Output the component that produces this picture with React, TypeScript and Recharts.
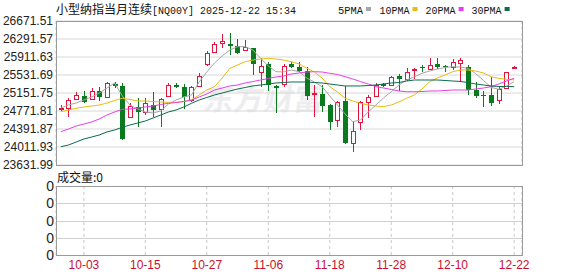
import { ComposedChart, Bar, Line, XAxis, YAxis, CartesianGrid } from 'recharts';

const RED = '#e0143c';
const GREEN = '#0a7a1e';
const MA_COLORS = ['#a6a6a6', '#e6bd10', '#e83ee8', '#0b6b4c'];
const MA_NAMES = ['5PMA', '10PMA', '20PMA', '30PMA'];

const dates = [
  '09-30', '10-01', '10-02', '10-03', '10-06', '10-07', '10-08', '10-09', '10-10', '10-13',
  '10-14', '10-15', '10-16', '10-17', '10-20', '10-21', '10-22', '10-23', '10-24', '10-27',
  '10-28', '10-29', '10-30', '10-31', '11-03', '11-04', '11-05', '11-06', '11-07', '11-10',
  '11-11', '11-12', '11-13', '11-14', '11-17', '11-18', '11-19', '11-20', '11-21', '11-24',
  '11-25', '11-26', '11-27', '11-28', '12-01', '12-02', '12-03', '12-04', '12-05', '12-08',
  '12-09', '12-10', '12-11', '12-12', '12-15', '12-16', '12-17', '12-18', '12-19', '12-22',
];

const opens = [
  24825, 24841, 25019, 25088, 25025, 25188, 25061, 25335, 25300, 24639,
  24863, 24757, 24898, 24808, 25095, 25327, 25285, 25004, 25300, 25764,
  26011, 26201, 26180, 26150, 26059, 26095, 25589, 25758, 25306, 25335,
  25758, 25694, 25616, 25124, 25124, 24898, 24582, 24983, 24103, 24533,
  24968, 25088, 25335, 25321, 25511, 25441, 25637, 25707, 25652, 25758,
  25722, 25694, 25779, 25707, 25215, 25110, 25110, 25004, 25251, 25673,
];
const highs = [
  24898, 25040, 25167, 25194, 25251, 25285, 25390, 25390, 25369, 24934,
  25040, 25040, 25179, 25040, 25356, 25356, 25342, 25300, 25567, 26038,
  26235, 26397, 26412, 26285, 26271, 26095, 25884, 25812, 25321, 25764,
  25812, 25812, 25707, 25321, 25321, 24913, 24983, 25306, 24546, 24983,
  25110, 25369, 25356, 25511, 25546, 25673, 25686, 25743, 25884, 25884,
  25743, 25863, 25884, 25743, 25390, 25194, 25496, 25300, 25602, 25728,
];
const lows = [
  24751, 24652, 25004, 24934, 25004, 24983, 25040, 25264, 24170, 24630,
  24428, 24687, 24652, 24428, 25074, 25251, 24814, 24955, 25285, 25728,
  25990, 26095, 25954, 25969, 26038, 25532, 25285, 25194, 24723, 25285,
  25673, 25602, 25004, 24639, 24744, 24371, 24441, 24080, 23913, 24371,
  24618, 25074, 25285, 25300, 25194, 25405, 25441, 25589, 25637, 25658,
  25602, 25637, 25390, 25110, 25040, 24863, 24884, 24913, 25236, 25655,
];
const closes = [
  24835, 25004, 25110, 24955, 25194, 25074, 25356, 25306, 24181, 24884,
  24757, 24934, 24793, 25019, 25321, 25285, 25074, 25272, 25517, 26002,
  26180, 26249, 26150, 25990, 26116, 25758, 25728, 25321, 25264, 25728,
  25694, 25623, 25095, 25145, 24877, 24533, 24955, 24090, 24356, 24955,
  25061, 25321, 25306, 25483, 25441, 25601, 25658, 25686, 25743, 25707,
  25694, 25800, 25848, 25215, 25095, 25082, 24934, 25236, 25589, 25694,
];

const ma5 = [
  24835, 24898, 24941, 25004, 25067, 25152, 25257, 25363, 25089, 24898,
  24814, 24751, 24730, 24772, 24920, 25004, 25067, 25110, 25384, 25595,
  25785, 25933, 26059, 26129, 26129, 26059, 25884, 25722, 25602, 25595,
  25637, 25602, 25468, 25384, 25285, 25089, 24898, 24709, 24546, 24582,
  24751, 24898, 25046, 25179, 25321, 25426, 25490, 25568, 25616, 25658,
  25690, 25707, 25700, 25673, 25560, 25420, 25270, 25230, 25300, 25390,
];
const ma10 = [
  24757, 24793, 24829, 24856, 24877, 24898, 24941, 24994, 25040, 25015,
  24983, 24983, 24972, 24962, 24955, 24951, 24972, 25004, 25110, 25215,
  25285, 25468, 25673, 25743, 25812, 25848, 25869, 25884, 25869, 25848,
  25812, 25764, 25679, 25595, 25468, 25285, 25173, 25040, 24983, 24934,
  24898, 24877, 24863, 24898, 24962, 25040, 25110, 25236, 25390, 25468,
  25532, 25601, 25637, 25637, 25616, 25574, 25496, 25460, 25440, 25430,
];
const ma20 = [
  24335, 24392, 24455, 24497, 24540, 24603, 24687, 24751, 24808, 24815,
  24835, 24856, 24877, 24909, 24934, 24951, 24972, 25004, 25067, 25131,
  25215, 25257, 25300, 25321, 25363, 25394, 25426, 25458, 25490, 25511,
  25553, 25574, 25595, 25601, 25595, 25568, 25542, 25496, 25447, 25394,
  25342, 25285, 25257, 25226, 25194, 25179, 25179, 25183, 25194, 25194,
  25204, 25215, 25215, 25215, 25236, 25257, 25285, 25342, 25405, 25462,
];
const ma30 = [
  24018, 24054, 24118, 24181, 24223, 24265, 24329, 24371, 24428, 24476,
  24519, 24561, 24624, 24687, 24751, 24793, 24856, 24934, 25004, 25057,
  25110, 25152, 25194, 25236, 25268, 25300, 25321, 25342, 25363, 25373,
  25384, 25384, 25384, 25373, 25363, 25342, 25321, 25300, 25300, 25300,
  25310, 25321, 25342, 25363, 25373, 25405, 25426, 25426, 25426, 25426,
  25416, 25405, 25395, 25373, 25342, 25321, 25300, 25289, 25289, 25285,
];

// 成交量 shows 0 for every day
const volumes = [
  0, 0, 0, 0, 0, 0, 0, 0, 0, 0, 0, 0, 0, 0, 0, 0, 0, 0, 0, 0,
  0, 0, 0, 0, 0, 0, 0, 0, 0, 0, 0, 0, 0, 0, 0, 0, 0, 0, 0, 0,
  0, 0, 0, 0, 0, 0, 0, 0, 0, 0, 0, 0, 0, 0, 0, 0, 0, 0, 0, 0,
];

const priceTicks = [
  26671.51, 26291.57, 25911.63, 25531.69, 25151.75, 24771.81, 24391.87, 24011.93, 23631.99,
];
const dateTicks = ['10-03', '10-15', '10-27', '11-06', '11-18', '11-28', '12-10', '12-22'];
const volTickLabels = ['0', '0', '0', '0', '0'];

const data = dates.map((date, i) => ({
  date,
  open: opens[i],
  high: highs[i],
  low: lows[i],
  close: closes[i],
  ma5: ma5[i],
  ma10: ma10[i],
  ma20: ma20[i],
  ma30: ma30[i],
}));
const volData = dates.map((date, i) => ({ date, vol: volumes[i] }));

const SANS = "'Liberation Sans', Arial, sans-serif";
const CJK = "'Noto Sans CJK SC', sans-serif";
const MONO = "'Liberation Mono', monospace";

// volume panel rows in page pixels
const VOL_Y0 = 186;
const VOL_Y1 = 255;

function Candle(props: any) {
  const { x, y, width, height, payload } = props;
  const { open, close, high, low } = payload;
  const top = height >= 0 ? y : y + height;
  const h = Math.abs(height);
  const span = high - low || 1;
  const toY = (v: number) => top + ((high - v) / span) * h;
  const n = Math.round(x + width / 2);
  const cx = n + 0.5;
  const bodyTop = Math.round(toY(Math.max(open, close)));
  const bodyBot = Math.round(toY(Math.min(open, close)));
  const yHigh = Math.round(toY(high));
  const yLow = Math.round(toY(low));
  const up = close >= open;
  if (up) {
    const bh = Math.max(bodyBot - bodyTop, 1);
    return (
      <g>
        <line x1={cx} x2={cx} y1={yHigh} y2={bodyTop} stroke={RED} />
        <line x1={cx} x2={cx} y1={bodyTop + bh} y2={yLow} stroke={RED} />
        <rect x={n - 1.5} y={bodyTop + 0.5} width={4} height={bh} fill="#fff" stroke={RED} />
      </g>
    );
  }
  return (
    <g>
      <line x1={cx} x2={cx} y1={yHigh} y2={yLow} stroke={GREEN} />
      <rect x={n - 2} y={bodyTop} width={5} height={Math.max(bodyBot - bodyTop, 1)} fill={GREEN} />
    </g>
  );
}

function PriceTick({ y, payload }: any) {
  return (
    <text x={53} y={y} dy={4} textAnchor="end" fontSize={12} fontFamily={SANS} fill="#222">
      {Number(payload.value).toFixed(2)}
    </text>
  );
}

function DateTick({ x, y, payload }: any) {
  return (
    <text x={x} y={y + 14} textAnchor="middle" fontSize={12} fontFamily={SANS} fill="#c8102e">
      {payload.value}
    </text>
  );
}

export default function App() {
  const legendX = [338, 379.5, 425.6, 471.6];
  const legendW = [25, 30, 30, 30];
  const rows = volTickLabels.map(
    (_, i) => VOL_Y0 + ((VOL_Y1 - VOL_Y0) * i) / (volTickLabels.length - 1),
  );
  return (
    <div
      style={{
        position: 'absolute',
        left: 0,
        top: 0,
        width: 578,
        height: 276,
        background: '#fff',
        overflow: 'hidden',
      }}
    >
      {/* watermark */}
      <svg width={578} height={276} style={{ position: 'absolute', left: 0, top: 0 }}>
        <text
          x={278}
          y={110}
          textAnchor="middle"
          fontSize={30}
          fontWeight={700}
          fontFamily={CJK}
          fill="#ededf0"
          transform="skewX(-8)"
        >
          东方财富
        </text>
      </svg>

      <div style={{ position: 'absolute', left: 0, top: 0 }}>
        <ComposedChart
          width={578}
          height={175}
          data={data}
          margin={{ top: 21, right: 56, bottom: 10, left: 0 }}
        >
          <CartesianGrid vertical={false} stroke="#d8d8d8" />
          <CartesianGrid horizontal={false} stroke="#c8c8c8" strokeDasharray="3 3" />
          <XAxis
            dataKey="date"
            ticks={dateTicks}
            interval={0}
            tick={false}
            tickLine={false}
            axisLine={false}
            height={0}
            padding={{ left: 1, right: 4 }}
          />
          <YAxis
            width={56}
            domain={[priceTicks[priceTicks.length - 1], priceTicks[0]]}
            ticks={priceTicks}
            interval={0}
            tick={<PriceTick />}
            tickLine={false}
            axisLine={false}
            allowDataOverflow
          />
          <Line dataKey="ma5" stroke={MA_COLORS[0]} dot={false} strokeWidth={1} isAnimationActive={false} />
          <Line dataKey="ma10" stroke={MA_COLORS[1]} dot={false} strokeWidth={1} isAnimationActive={false} />
          <Line dataKey="ma20" stroke={MA_COLORS[2]} dot={false} strokeWidth={1} isAnimationActive={false} />
          <Line dataKey="ma30" stroke={MA_COLORS[3]} dot={false} strokeWidth={1} isAnimationActive={false} />
          <Bar
            dataKey={(d: any) => [d.low, d.high]}
            shape={<Candle />}
            isAnimationActive={false}
          />
        </ComposedChart>
      </div>

      <div style={{ position: 'absolute', left: 0, top: 176 }}>
        <ComposedChart
          width={578}
          height={100}
          data={volData}
          margin={{ top: VOL_Y0 - 176, right: 56, bottom: 0, left: 0 }}
        >
          <CartesianGrid horizontal={false} stroke="#c8c8c8" strokeDasharray="3 3" />
          <XAxis
            dataKey="date"
            ticks={dateTicks}
            interval={0}
            tick={<DateTick />}
            tickLine={false}
            axisLine={false}
            tickSize={0}
            tickMargin={0}
            height={276 - 176 - (VOL_Y1 - 176)}
            padding={{ left: 1, right: 4 }}
          />
          <YAxis width={56} type="number" domain={[0, 4]} tick={false} tickLine={false} axisLine={false} />
          <Bar dataKey="vol" fill="#999" isAnimationActive={false} />
        </ComposedChart>
      </div>

      <svg
        width={578}
        height={276}
        style={{ position: 'absolute', left: 0, top: 0, pointerEvents: 'none' }}
      >
        {rows.slice(1, -1).map((ry) => (
          <line
            key={ry}
            x1={57}
            x2={522}
            y1={Math.round(ry) + 0.5}
            y2={Math.round(ry) + 0.5}
            stroke="#d0d0d0"
          />
        ))}
        <rect x={56.5} y={21.5} width={466} height={144} fill="none" stroke="#9a9a9a" />
        <rect x={56.5} y={186.5} width={466} height={69} fill="none" stroke="#9a9a9a" />
        <text x={56} y={14} fontSize={12} fontFamily={CJK} fill="#111">
          小型纳指当月连续
        </text>
        <text
          x={152}
          y={14}
          fontSize={11}
          fontFamily={MONO}
          fill="#111"
          textLength={144}
          lengthAdjust="spacingAndGlyphs"
        >
          [NQ00Y] 2025-12-22 15:34
        </text>
        {MA_NAMES.map((name, i) => (
          <g key={name}>
            <text
              x={legendX[i]}
              y={14}
              fontSize={11}
              fontFamily={MONO}
              fill="#111"
              textLength={legendW[i]}
              lengthAdjust="spacingAndGlyphs"
            >
              {name}
            </text>
            <rect x={legendX[i] + legendW[i] + 3} y={7} width={5} height={4} fill={MA_COLORS[i]} />
          </g>
        ))}
        <text x={57} y={182} fontSize={12} fontFamily={CJK} fill="#111">
          成交量:0
        </text>
      </svg>

      {volTickLabels.map((label, i) => (
        <div
          key={i}
          style={{
            position: 'absolute',
            left: 36,
            width: 18,
            top: rows[i] - 8,
            height: 16,
            lineHeight: '16px',
            textAlign: 'right',
            fontSize: 14,
            fontFamily: SANS,
            color: '#222',
          }}
        >
          {label}
        </div>
      ))}
    </div>
  );
}
